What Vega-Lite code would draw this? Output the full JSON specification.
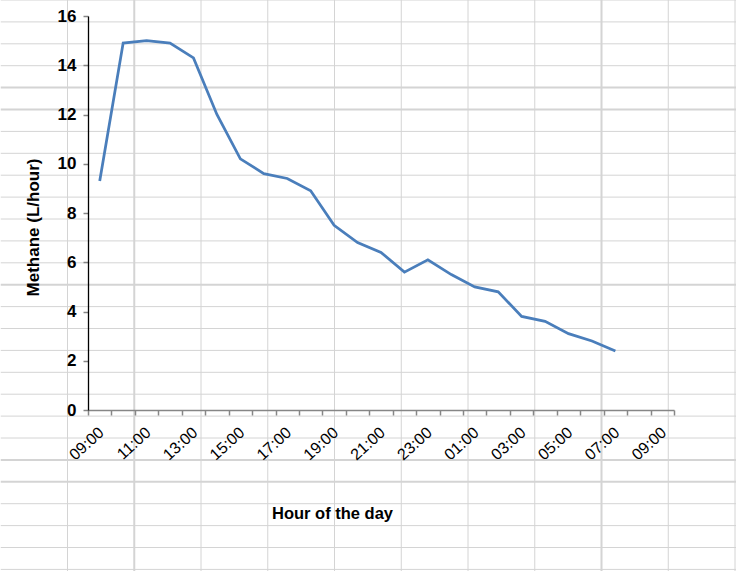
{
  "$schema": "https://vega.github.io/schema/vega-lite/v6.json",
  "width": 586,
  "height": 394,
  "autosize": {"type": "none"},
  "padding": {"left": 88, "top": 16, "right": 62, "bottom": 161},
  "background": "white",
  "config": {"view": {"stroke": null}},
  "datasets": {
    "cols": [{"c": 1}, {"c": 2}, {"c": 3}, {"c": 4}, {"c": 5}, {"c": 6}, {"c": 7}, {"c": 8}, {"c": 9}, {"c": 10}, {"c": 11}],
    "rows": [{"r": 0}, {"r": 1}, {"r": 2}, {"r": 3}, {"r": 4}, {"r": 5}, {"r": 6}, {"r": 7}, {"r": 8}, {"r": 9}, {"r": 10}, {"r": 11}, {"r": 12}, {"r": 13}, {"r": 14}, {"r": 15}, {"r": 16}, {"r": 17}, {"r": 18}, {"r": 19}, {"r": 20}, {"r": 21}, {"r": 22}, {"r": 23}, {"r": 24}, {"r": 25}, {"r": 26}],
    "methane": [
      {"i": 0, "time": "09:00", "methane": 9.3},
      {"i": 1, "time": "10:00", "methane": 14.9},
      {"i": 2, "time": "11:00", "methane": 15.0},
      {"i": 3, "time": "12:00", "methane": 14.9},
      {"i": 4, "time": "13:00", "methane": 14.3},
      {"i": 5, "time": "14:00", "methane": 12.0},
      {"i": 6, "time": "15:00", "methane": 10.2},
      {"i": 7, "time": "16:00", "methane": 9.6},
      {"i": 8, "time": "17:00", "methane": 9.4},
      {"i": 9, "time": "18:00", "methane": 8.9},
      {"i": 10, "time": "19:00", "methane": 7.5},
      {"i": 11, "time": "20:00", "methane": 6.8},
      {"i": 12, "time": "21:00", "methane": 6.4},
      {"i": 13, "time": "22:00", "methane": 5.6},
      {"i": 14, "time": "23:00", "methane": 6.1},
      {"i": 15, "time": "00:00", "methane": 5.5},
      {"i": 16, "time": "01:00", "methane": 5.0},
      {"i": 17, "time": "02:00", "methane": 4.8},
      {"i": 18, "time": "03:00", "methane": 3.8},
      {"i": 19, "time": "04:00", "methane": 3.6},
      {"i": 20, "time": "05:00", "methane": 3.1},
      {"i": 21, "time": "06:00", "methane": 2.8},
      {"i": 22, "time": "07:00", "methane": 2.4}
    ]
  },
  "layer": [
    {
      "layer": [
        {
          "data": {"name": "cols"},
          "mark": {"type": "rule", "color": "#d4d4d4"},
          "encoding": {
            "x": {"field": "c", "type": "quantitative", "scale": {"domain": [0, 11], "range": [-87.25, 647]}, "axis": null},
            "y": {"datum": 0, "type": "quantitative", "scale": {"domain": [0, 26], "range": [-16, 553.4]}, "axis": null},
            "y2": {"datum": 26.1},
            "strokeWidth": {"condition": {"test": "datum.c == 2 || datum.c == 9", "value": 2}, "value": 1}
          }
        },
        {
          "data": {"name": "rows"},
          "mark": {"type": "rule", "color": "#d4d4d4"},
          "encoding": {
            "y": {"field": "r", "type": "quantitative", "axis": null},
            "x": {"datum": 0, "type": "quantitative", "axis": null},
            "x2": {"datum": 11.05},
            "strokeWidth": {"condition": {"test": "datum.r == 4 || datum.r == 5 || datum.r == 13 || datum.r == 21 || datum.r == 22", "value": 2}, "value": 1}
          }
        }
      ]
    },
    {
      "data": {"name": "methane"},
      "mark": {"type": "line", "color": "#4a7ebb", "strokeWidth": 2.75},
      "encoding": {
        "x": {
          "field": "i",
          "type": "ordinal",
          "scale": {"type": "band", "domain": [0, 1, 2, 3, 4, 5, 6, 7, 8, 9, 10, 11, 12, 13, 14, 15, 16, 17, 18, 19, 20, 21, 22, 23, 24], "paddingInner": 0, "paddingOuter": 0},
          "axis": {
            "title": "Hour of the day",
            "titleFont": "Liberation Sans",
            "titleFontSize": 16.5,
            "titleFontWeight": "bold",
            "titleColor": "black",
            "titleX": 244,
            "titleY": 103,
            "titleAlign": "center",
            "titleBaseline": "middle",
            "titleAngle": 0,
            "labelAngle": -42,
            "labelFont": "Liberation Sans",
            "labelFontSize": 16,
            "labelColor": "black",
            "labelOverlap": false,
            "labelOffset": -4,
            "labelExpr": "datum.value % 2 == 0 ? ((((9 + datum.value) % 24) < 10 ? '0' : '') + ((9 + datum.value) % 24) + ':00') : ''",
            "tickBand": "extent",
            "tickSize": 5,
            "tickWidth": 1.5,
            "tickColor": "#868686",
            "domainColor": "#868686",
            "domainWidth": 1.5,
            "labelPadding": 9,
            "grid": false,
            "zindex": 1
          }
        },
        "y": {
          "field": "methane",
          "type": "quantitative",
          "scale": {"domain": [0, 16]},
          "axis": {
            "title": "Methane (L/hour)",
            "values": [0, 2, 4, 6, 8, 10, 12, 14, 16],
            "labelFont": "Liberation Sans",
            "labelFontSize": 17,
            "labelFontWeight": "bold",
            "labelColor": "black",
            "tickSize": 5,
            "tickWidth": 1.5,
            "tickColor": "#868686",
            "domainColor": "black",
            "domainWidth": 1.3,
            "labelPadding": 7,
            "grid": false,
            "titleFont": "Liberation Sans",
            "titleFontSize": 17,
            "titleFontWeight": "bold",
            "titleColor": "black",
            "titleX": -55,
            "titleY": 211,
            "titleAngle": -90,
            "titleAlign": "center",
            "titleBaseline": "middle",
            "zindex": 1
          }
        }
      }
    }
  ],
  "resolve": {"scale": {"x": "independent", "y": "independent"}}
}
